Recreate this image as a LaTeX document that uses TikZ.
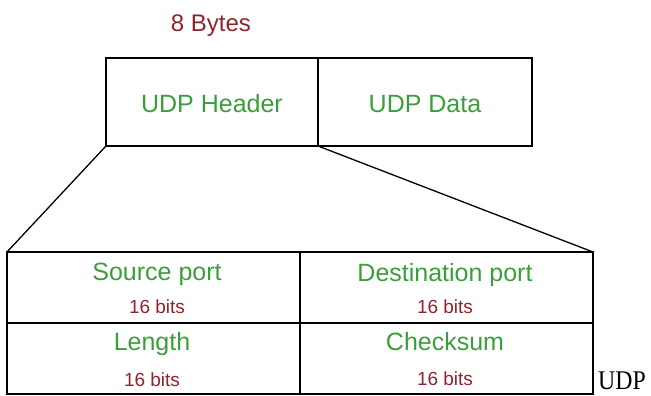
\documentclass[tikz,border=0pt]{standalone}
\usepackage{fontspec}
\setmainfont{Liberation Sans}
\newfontfamily\udpserif{Liberation Serif}
\definecolor{lblgreen}{RGB}{58,158,58}
\definecolor{lblred}{RGB}{145,35,45}
\begin{document}
\begin{tikzpicture}[x=1pt,y=-1pt,
  cellbox/.style={draw=black, line width=1.5pt, inner sep=0pt, outer sep=0pt},
  field/.style={text=lblgreen, font=\fontsize{25}{30}\selectfont, inner sep=0pt, anchor=base},
  bits/.style={text=lblred, font=\fontsize{19}{22}\selectfont, inner sep=0pt, anchor=base},
  bytestext/.style={text=lblred, font=\fontsize{24}{28}\selectfont, inner sep=0pt, anchor=base},
  link/.style={draw=black, line width=1.3pt}]
\useasboundingbox (0,0) rectangle (651,396);
% top boxes
\node[cellbox, minimum width=212pt, minimum height=88pt] (hdr) at (212,102) {};
\node[cellbox, minimum width=214pt, minimum height=88pt] (data) at (425,102) {};
\node[field] (hdrt) at (212,112) {UDP Header};
\node[field] (datat) at (425,112) {UDP Data};
\node[bytestext] (bytes) at (211,32) {8 Bytes};
% table
\node[cellbox, minimum width=293pt, minimum height=71pt] (sp) at (153.5,287.5) {};
\node[cellbox, minimum width=293pt, minimum height=71pt] (dp) at (446.5,287.5) {};
\node[cellbox, minimum width=293pt, minimum height=71pt] (len) at (153.5,358.5) {};
\node[cellbox, minimum width=293pt, minimum height=71pt] (cs) at (446.5,358.5) {};
\node[field] (spt) at (157,280) {Source port};
\node[bits] (spb) at (157,313) {16 bits};
\node[field] (lent) at (152,350) {Length};
\node[bits] (lenb) at (152,386) {16 bits};
\node[field] (dpt) at (445,281) {Destination port};
\node[bits] (dpb) at (445,313) {16 bits};
\node[field] (cst) at (445,350) {Checksum};
\node[bits] (csb) at (445,385) {16 bits};
% connectors
\draw[link] (hdr.south west) -- (sp.north west);
\draw[link] (hdr.south east) -- (dp.north east);
% caption fragment
\node[anchor=base west, inner sep=0pt, font=\udpserif\fontsize{27}{30}\selectfont] (udp) at (598,389) {\scalebox{0.88}[1]{UDP}};
\end{tikzpicture}
\end{document}
